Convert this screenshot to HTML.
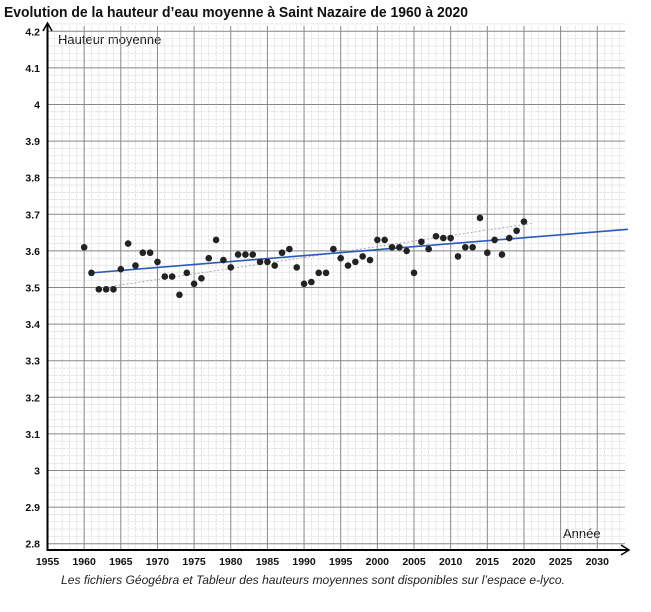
<!DOCTYPE html>
<html><head><meta charset="utf-8"><style>
body{margin:0;background:#fff;width:651px;height:607px;overflow:hidden;font-family:"Liberation Sans",sans-serif}
</style></head><body>
<svg id="s" width="651" height="607" xmlns="http://www.w3.org/2000/svg">
<text x="4" y="17" font-size="14.5" font-weight="bold" fill="#111" textLength="464" lengthAdjust="spacingAndGlyphs">Evolution de la hauteur d’eau moyenne à Saint Nazaire de 1960 à 2020</text>
<text x="58" y="44" font-size="13" fill="#111">Hauteur moyenne</text>
<text x="563" y="538" font-size="13" fill="#111">Année</text>
<text x="61" y="584" font-size="11.5" font-style="italic" fill="#222" textLength="504" lengthAdjust="spacingAndGlyphs">Les fichiers Géogébra et Tableur des hauteurs moyennes sont disponibles sur l’espace e-lyco.</text>
</svg>
<script>
const s=document.getElementById('s'),NS='http://www.w3.org/2000/svg';
function el(t,a,txt){const e=document.createElementNS(NS,t);for(const k in a)e.setAttribute(k,a[k]);if(txt!==undefined)e.textContent=txt;s.appendChild(e);return e;}
const X=y=>47.5+(y-1955)*7.33, Y=v=>543.7-(v-2.8)*366;
for(let y=1955;y<=2033;y++){if((y-1955)%5)el('line',{x1:X(y),x2:X(y),y1:26,y2:550,stroke:'#d4d4d4','stroke-width':0.6,'stroke-dasharray':'3,1'});}
for(let i=0;i<=71;i++){const v=2.8+i*0.02;if(i%5)el('line',{x1:47,x2:625,y1:Y(v),y2:Y(v),stroke:'#d4d4d4','stroke-width':0.6,'stroke-dasharray':'3,1'});}
for(let y=1960;y<=2030;y+=5)el('line',{x1:X(y),x2:X(y),y1:26,y2:550,stroke:'#888','stroke-width':1});
for(let i=0;i<=14;i++){const v=2.8+i*0.1;el('line',{x1:47,x2:625,y1:Y(v),y2:Y(v),stroke:'#888','stroke-width':1});
el('text',{x:40,y:Y(v)+4,'font-size':10.5,'font-weight':'bold','text-anchor':'end',fill:'#111'},(Math.round(v*10)/10).toString());}
for(let y=1955;y<=2030;y+=5)el('text',{x:X(y),y:565,'font-size':10.5,'font-weight':'bold','text-anchor':'middle',fill:'#111'},y);
el('line',{x1:47,x2:628,y1:550,y2:550,stroke:'#000','stroke-width':2});
el('path',{d:'M621,545 L629,550 L621,555',fill:'none',stroke:'#000','stroke-width':1.5});
el('line',{x1:47.5,x2:47.5,y1:24,y2:551,stroke:'#000','stroke-width':2});
el('path',{d:'M43,31 L47.5,23 L52,31',fill:'none',stroke:'#000','stroke-width':1.5});
el('line',{x1:X(1962),y1:Y(3.498),x2:X(2021),y2:Y(3.675),stroke:'#aaa','stroke-width':1,'stroke-dasharray':'2,2'});
el('line',{x1:X(1961),y1:Y(3.54),x2:628,y2:Y(3.659),stroke:'#2a5bb8','stroke-width':1.6});
const d=[3.61,3.54,3.495,3.495,3.495,3.55,3.62,3.56,3.595,3.595,3.57,3.53,3.53,3.48,3.54,3.51,3.525,3.58,3.63,3.575,3.555,3.59,3.59,3.59,3.57,3.57,3.56,3.595,3.605,3.555,3.51,3.515,3.54,3.54,3.605,3.58,3.56,3.57,3.585,3.575,3.63,3.63,3.61,3.61,3.6,3.54,3.625,3.605,3.64,3.635,3.635,3.585,3.61,3.61,3.69,3.595,3.63,3.59,3.635,3.655,3.68];
d.forEach((v,i)=>el('circle',{cx:X(1960+i),cy:Y(v),r:3.3,fill:'#222'}));
</script>
</body></html>
